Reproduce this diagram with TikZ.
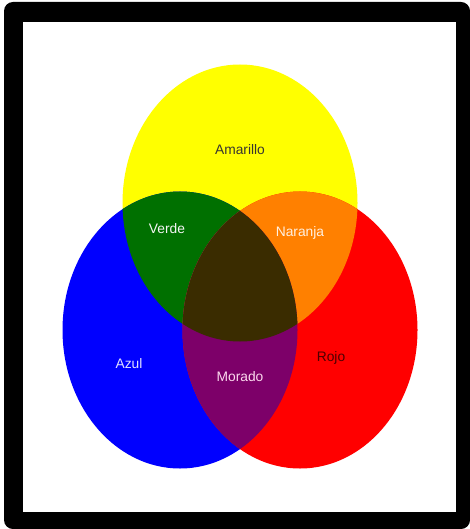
\documentclass[tikz,border=0pt]{standalone}
\usepackage{fontspec}
\setmainfont{Liberation Sans}
\usepackage{tikz}

\definecolor{amarillo}{RGB}{255,255,0}
\definecolor{azul}{RGB}{0,0,255}
\definecolor{rojo}{RGB}{255,0,0}
\definecolor{verde}{RGB}{0,112,0}
\definecolor{naranja}{RGB}{255,128,0}
\definecolor{morado}{RGB}{125,0,105}
\definecolor{centro}{RGB}{58,44,0}

\newcommand{\circAmarillo}{(240,203) ellipse [x radius=117.5, y radius=138.5]}
\newcommand{\circAzul}{(180,330) ellipse [x radius=117.5, y radius=138.5]}
\newcommand{\circRojo}{(300,330) ellipse [x radius=117.5, y radius=138.5]}

\begin{document}
\begin{tikzpicture}[
            x=1pt, y=-1pt,
            % Estilos de las etiquetas
            etiqueta/.style={font=\fontsize{13.8}{16}\selectfont, inner sep=0pt},
            clara/.style={etiqueta, text=white!92!gray},
            oscura/.style={etiqueta, text=black!90!yellow}
        ]
            \useasboundingbox (0,0) rectangle (470,529);

            % Marco
            \fill[white] (0,0) rectangle (470,529);
            \fill[black, rounded corners=9pt] (4,2) rectangle (470,529);
            \fill[white] (23,22) rectangle (456,512);

            % Colores primarios
            \fill[amarillo] \circAmarillo;
            \fill[azul] \circAzul;
            \fill[rojo] \circRojo;

            % Mezclas de dos colores
            \begin{scope}
                \clip \circAmarillo;
                \fill[verde] \circAzul;
                \fill[naranja] \circRojo;
            \end{scope}
            \begin{scope}
                \clip \circAzul;
                \fill[morado] \circRojo;
            \end{scope}

            % Mezcla de los tres
            \begin{scope}
                \clip \circAmarillo;
                \clip \circAzul;
                \fill[centro] \circRojo;
            \end{scope}

            % Etiquetas
            \node[oscura] (amarillo) at (240,150) {Amarillo};
            \node[clara] (verde) at (167,229) {Verde};
            \node[clara, text=white!88!orange] (naranja) at (300,233) {Naranja};
            \node[clara, text=white!88!blue] (azul) at (129,364) {Azul};
            \node[clara, text=white!85!magenta] (morado) at (240,377) {Morado};
            \node[oscura, text=black!70!red] (rojo) at (331,358) {Rojo};
        \end{tikzpicture}
\end{document}
